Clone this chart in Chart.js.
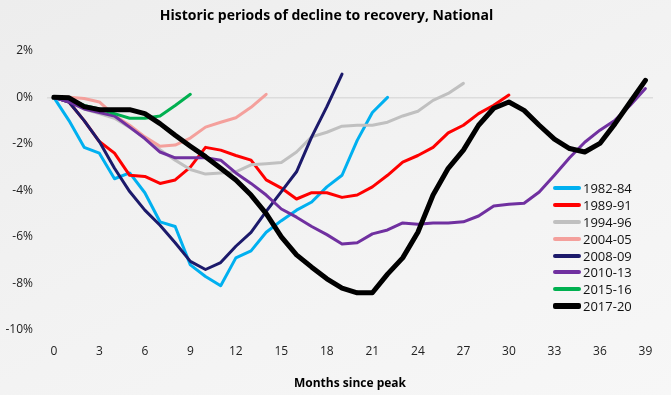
<!DOCTYPE html>
<html>
<head>
<meta charset="utf-8">
<script src="https://cdn.jsdelivr.net/npm/chart.js@4/dist/chart.umd.min.js"></script>
<style>
    html, body { margin: 0; padding: 0; }
    body {
        width: 671px; height: 395px; overflow: hidden; position: relative;
        background: linear-gradient(155deg, #ededed 0%, #f3f3f3 55%, #f7f7f7 100%);
        font-family: "Open Sans", sans-serif;
    }
    #wrap { position: absolute; left: 0; top: 0; width: 671px; height: 395px; }
    #leyenda { position: absolute; left: 553px; top: 180px; }
    .item { display: flex; align-items: center; height: 16.8px; font-size: 13px; color: #111; }
    .item span.muestra { display: inline-block; width: 28px; margin-right: 2px; border-radius: 2px; }
</style>
</head>
<body>
<div id="wrap"><canvas id="chartHistorico" width="671" height="395"></canvas></div>
<div id="leyenda"></div>
<script>
// Meses desde el pico (eje X) y etiquetas de ejes
const ticksMeses = [0, 3, 6, 9, 12, 15, 18, 21, 24, 27, 30, 33, 36, 39];
const ticksPct = [2, 0, -2, -4, -6, -8, -10];

const periodos = ['1982-84', '1989-91', '1994-96', '2004-05', '2008-09', '2010-13', '2015-16', '2017-20'];

// Valores (%) por mes
const serie8284 = [0, -1.0, -2.15, -2.4, -3.5, -3.25, -4.1, -5.35, -5.55, -7.2, -7.7, -8.1, -6.9, -6.6, -5.8, -5.3, -4.85, -4.5, -3.85, -3.35, -1.85, -0.65, 0.0];
const serie8991 = [0, -0.2, -1.0, -1.9, -2.4, -3.35, -3.4, -3.7, -3.55, -3.0, -2.15, -2.27, -2.5, -2.7, -3.55, -3.9, -4.37, -4.1, -4.1, -4.3, -4.2, -3.85, -3.35, -2.78, -2.5, -2.15, -1.53, -1.2, -0.7, -0.34, 0.1];
const serie9496 = [0, -0.2, -0.5, -0.7, -0.9, -1.3, -1.75, -2.25, -2.7, -3.1, -3.3, -3.25, -3.2, -2.9, -2.85, -2.8, -2.35, -1.7, -1.5, -1.24, -1.2, -1.2, -1.07, -0.8, -0.6, -0.13, 0.17, 0.6];
const serie0405 = [0, 0, -0.05, -0.2, -0.78, -1.2, -1.7, -2.1, -2.05, -1.75, -1.28, -1.07, -0.88, -0.43, 0.13];
const serie0809 = [0, -0.2, -1.0, -1.9, -3.05, -4.05, -4.85, -5.5, -6.25, -7.05, -7.4, -7.1, -6.4, -5.8, -4.9, -4.05, -3.2, -1.7, -0.4, 1.0];
const serie1013 = [0, -0.2, -0.5, -0.65, -0.8, -1.28, -1.77, -2.35, -2.6, -2.6, -2.6, -2.7, -3.25, -3.7, -4.2, -4.8, -5.15, -5.55, -5.9, -6.3, -6.25, -5.87, -5.7, -5.4, -5.45, -5.4, -5.4, -5.35, -5.1, -4.67, -4.6, -4.55, -4.07, -3.35, -2.6, -1.93, -1.41, -0.98, -0.34, 0.38];
const serie1516 = [0, -0.05, -0.35, -0.5, -0.7, -0.9, -0.9, -0.8, -0.35, 0.13];
const serie1720 = [0, -0.02, -0.4, -0.53, -0.53, -0.53, -0.7, -1.13, -1.63, -2.1, -2.55, -3.05, -3.55, -4.2, -5.0, -6.0, -6.77, -7.3, -7.8, -8.2, -8.4, -8.4, -7.6, -6.9, -5.8, -4.2, -3.05, -2.27, -1.2, -0.47, -0.2, -0.56, -1.2, -1.8, -2.2, -2.35, -1.98, -1.13, -0.2, 0.73];

const series = [serie8284, serie8991, serie9496, serie0405, serie0809, serie1013, serie1516, serie1720];
const colores = ['#00b0f0', '#ff0000', '#c0c0c0', '#f4a09c', '#1c1a6b', '#7030a0', '#00b050', '#000000'];
const grosores = [3, 3, 3, 3, 3, 3, 3, 5];

const ctx = document.getElementById('chartHistorico').getContext('2d');

const datasets = series.map((valores, i) => ({
    label: periodos[i],
    data: valores.map((v, mes) => ({ x: mes, y: v })),
    borderColor: colores[i],
    backgroundColor: colores[i],
    borderWidth: grosores[i],
    pointRadius: 0,
    tension: 0,
    borderCapStyle: 'round',
    borderJoinStyle: 'round',
    fill: false,
    order: series.length - i  // la última serie se dibuja encima
}));

new Chart(ctx, {
    type: 'line',
    data: { datasets },
    options: {
        responsive: false,
        animation: false,
        layout: { padding: { left: 0, right: 18, top: 0, bottom: 0 } },
        plugins: {
            legend: { display: false },
            tooltip: { enabled: false },
            title: {
                display: true,
                text: 'Historic periods of decline to recovery, National',
                color: '#000',
                font: { family: 'Open Sans', size: 14, weight: 'bold' },
                padding: { top: 8, bottom: 26 }
            }
        },
        scales: {
            x: {
                type: 'linear',
                min: -0.45,
                max: 39.5,
                afterBuildTicks: s => { s.ticks = ticksMeses.map(v => ({ value: v })); },
                afterFit: s => { s.height = 65; },
                grid: { display: false },
                border: { display: false },
                ticks: { color: '#222', font: { family: 'Open Sans', size: 12 }, padding: 6, maxRotation: 0 },
                title: {
                    display: true,
                    text: 'Months since peak',
                    color: '#000',
                    font: { family: 'Open Sans', size: 12, weight: 'bold' },
                    padding: { top: 14 }
                }
            },
            y: {
                min: -10,
                max: 2,
                afterBuildTicks: s => { s.ticks = ticksPct.map(v => ({ value: v })); },
                afterFit: s => { s.width = 47; },
                border: { display: false },
                grid: {
                    drawTicks: false,
                    color: c => (c.tick && c.tick.value === 0) ? '#dcdcdc' : 'rgba(0,0,0,0)',
                    lineWidth: 1.5
                },
                ticks: {
                    color: '#222',
                    font: { family: 'Open Sans', size: 12 },
                    padding: 14,
                    callback: v => v + '%'
                }
            }
        }
    }
});

// Leyenda en HTML, dentro del área del gráfico
const leyenda = document.getElementById('leyenda');
leyenda.innerHTML = periodos.map((p, i) => `
    <div class="item">
        <span class="muestra" style="background:${colores[i]}; height:${grosores[i] + 1}px"></span>
        <span>${p}</span>
    </div>
`).join('');
</script>
</body>
</html>
